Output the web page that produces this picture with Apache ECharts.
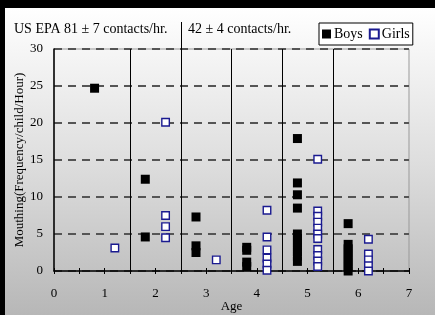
<!DOCTYPE html>
<html>
<head>
<meta charset="utf-8">
<script src="https://cdn.jsdelivr.net/npm/echarts@6/dist/echarts.min.js"></script>
<style>
  html, body { margin: 0; padding: 0; background: #000; }
  #wrap { position: relative; width: 435px; height: 315px; background: #000; overflow: hidden; }
  #panel { position: absolute; left: 5px; top: 8px; width: 430px; height: 307px;
           background: linear-gradient(to bottom, #ffffff 0%, #dedede 50%, #b7b7b7 100%); }
  #chart { position: absolute; left: 0; top: 0; width: 435px; height: 315px; }
</style>
</head>
<body>
<div id="wrap">
  <div id="panel"></div>
  <div id="chart"></div>
</div>
<script>
// ages where each group of points sits, and the rates
var boyAges = [0.8, 1.8, 2.8, 3.8, 4.8, 5.8];
var boyRates = [
  [24.7],
  [12.4, 4.6],
  [7.3, 3.4, 2.5],
  [3.2, 2.8, 1.2, 0.6],
  [17.9, 11.9, 10.3, 8.5, 5.0, 4.4, 3.8, 3.2, 2.6, 2.0, 1.3],
  [6.4, 3.6, 3.0, 2.4, 1.8, 1.2, 0.6, 0.0]
];
var girlAges = [1.2, 2.2, 3.2, 4.2, 5.2, 6.2];
var girlRates = [
  [3.1],
  [20.1, 7.5, 6.0, 4.5],
  [1.5],
  [8.2, 4.6, 2.85, 1.75, 0.95, 0.1],
  [15.1, 8.1, 7.4, 6.6, 5.8, 5.0, 4.4, 2.9, 2.1, 1.35, 0.6],
  [4.3, 2.3, 1.5, 0.7, 0.0]
];
var dividers = [1.5, 2.5, 3.5, 4.5, 5.5];
var ageTicks = [0, 1, 2, 3, 4, 5, 6, 7];

function toPoints(ages, rates) {
  var out = [];
  for (var i = 0; i < ages.length; i++) {
    for (var j = 0; j < rates[i].length; j++) {
      out.push([ages[i], rates[i][j]]);
    }
  }
  return out;
}

var serif = 'Liberation Serif';
var myChart = echarts.init(document.getElementById('chart'));

var option = {
  animation: false,
  backgroundColor: 'transparent',
  textStyle: { fontFamily: serif },
  title: [{
    text: 'US EPA 81 \u00b1 7 contacts/hr.',
    left: 14, top: 22, padding: 0,
    textStyle: { fontFamily: serif, fontSize: 14, fontWeight: 'normal', color: '#000' }
  }, {
    text: '42 \u00b1 4 contacts/hr.',
    left: 188, top: 22, padding: 0,
    textStyle: { fontFamily: serif, fontSize: 14, fontWeight: 'normal', color: '#000' }
  }],
  legend: {
    left: 319, top: 23,
    padding: [4, 3, 4, 3],
    itemGap: 6,
    itemWidth: 9, itemHeight: 9,
    backgroundColor: '#fff',
    borderColor: '#000', borderWidth: 1,
    textStyle: { fontFamily: serif, fontSize: 14, color: '#000', padding: [0, 0, 0, -2] },
    data: [{ name: 'Boys', icon: 'rect' }, { name: 'Girls', icon: 'rect' }]
  },
  grid: {
    left: 54, right: 26, top: 49, bottom: 44,
    outerBoundsMode: 'none',
    show: true, borderColor: '#999', borderWidth: 1
  },
  xAxis: [{
    type: 'value', min: 0, max: 7, interval: 0.5,
    name: 'Age', nameLocation: 'middle', nameGap: 29, nameMoveOverlap: false,
    nameTextStyle: { fontFamily: serif, fontSize: 13, color: '#000' },
    axisLine: { lineStyle: { color: '#000', width: 1.5 } },
    axisTick: { length: 3, lineStyle: { color: '#000' } },
    axisLabel: {
      margin: 16, fontFamily: serif, fontSize: 13, color: '#000',
      formatter: function (v) { return ageTicks.indexOf(v) >= 0 ? String(v) : ''; }
    },
    splitLine: { show: false }
  }, {
    type: 'value', min: 0, max: 7, interval: 0.5, position: 'bottom',
    axisLine: { show: false },
    axisTick: { inside: true, length: 3, lineStyle: { color: '#000' } },
    axisLabel: { show: false },
    splitLine: { show: false }
  }],
  yAxis: {
    type: 'value', min: 0, max: 30, interval: 5,
    name: 'Mouthing(Frequency/child/Hour)', nameLocation: 'middle', nameGap: 28, nameMoveOverlap: false,
    nameTextStyle: { fontFamily: serif, fontSize: 13, color: '#000' },
    axisLine: { show: true, lineStyle: { color: '#000', width: 1.5 } },
    axisTick: { show: false },
    axisLabel: { margin: 11, fontFamily: serif, fontSize: 13, color: '#000' },
    splitLine: { show: true, lineStyle: { color: '#555', width: 2, type: [8, 6] } }
  },
  series: [{
    name: 'Boys',
    type: 'scatter',
    clip: false,
    symbol: 'rect',
    symbolSize: 9,
    itemStyle: { color: '#000', opacity: 1 },
    data: toPoints(boyAges, boyRates),
    markLine: {
      silent: true,
      symbol: 'none',
      label: { show: false },
      lineStyle: { color: '#000', width: 1, type: 'solid' },
      data: dividers.map(function (d) { return { xAxis: d }; })
    },
    z: 3
  }, {
    name: 'Girls',
    type: 'scatter',
    clip: false,
    symbol: 'rect',
    symbolSize: 7.5,
    itemStyle: { color: '#fff', borderColor: '#1a1a90', borderWidth: 1.4, opacity: 1 },
    data: toPoints(girlAges, girlRates),
    z: 4
  }]
};

myChart.setOption(option);

// the 2.5 divider runs on up between the two headings
var divTop = myChart.convertToPixel({ xAxisIndex: 0, yAxisIndex: 0 }, [2.5, 30]);
var lineX = Math.round(divTop[0]) + 0.5;
myChart.setOption({
  graphic: [{
    type: 'line',
    shape: { x1: lineX, y1: 22, x2: lineX, y2: divTop[1] },
    style: { stroke: '#000', lineWidth: 1 }
  }]
});
</script>
</body>
</html>
